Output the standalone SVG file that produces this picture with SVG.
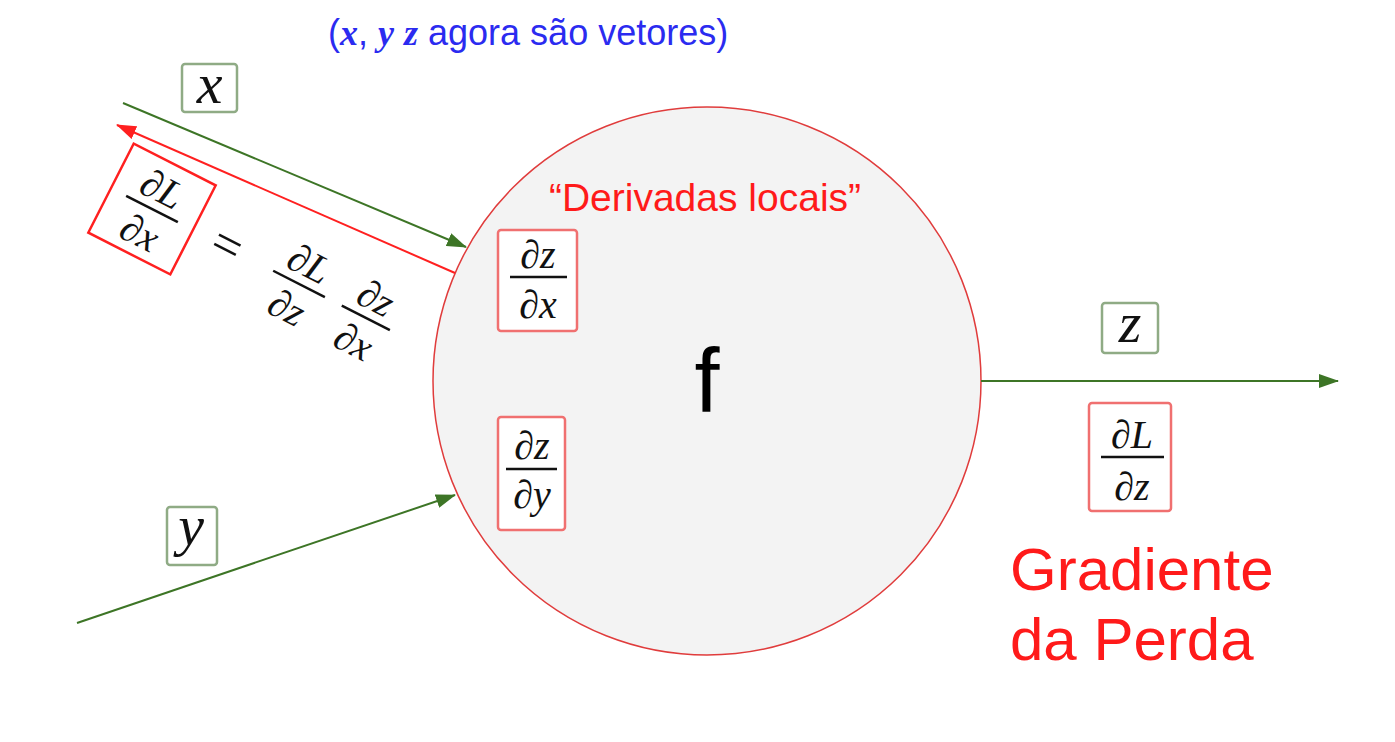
<svg xmlns="http://www.w3.org/2000/svg" width="1395" height="742" viewBox="0 0 1395 742">
<style>
.m{font-family:"Liberation Serif","DejaVu Serif",serif;font-style:italic;fill:#111;text-anchor:middle}
.fr{font-size:40px}
.lab{font-size:58px}
.bar{stroke:#111;stroke-width:2.5}
.gbox{fill:#fff;stroke:#8fab85;stroke-width:2.5}
.rbox{fill:#fff;stroke:#f07070;stroke-width:2.5}
.edge{stroke:#3d7526;stroke-width:2;fill:none}
.red{font-family:"Liberation Sans",Arial,sans-serif;fill:#ff1a1a}
.vec{font-family:"Liberation Serif",serif;font-style:italic;font-weight:bold}
</style>
<defs>
<marker id="ga" viewBox="0 0 20 14" refX="19" refY="7" markerWidth="20" markerHeight="14" markerUnits="userSpaceOnUse" orient="auto">
<path d="M0,0 L20,7 L0,14 z" fill="#3d7526"/>
</marker>
<marker id="ra" viewBox="0 0 20 14" refX="19" refY="7" markerWidth="20" markerHeight="14" markerUnits="userSpaceOnUse" orient="auto">
<path d="M0,0 L20,7 L0,14 z" fill="#ff2020"/>
</marker>
</defs>
<rect width="1395" height="742" fill="#fff"/>

<g id="title">
<text x="328" y="45" font-size="36" font-family="Liberation Sans,Arial,sans-serif" fill="#2b2bf0">(<tspan class="vec">x</tspan>, <tspan class="vec">y</tspan> <tspan class="vec">z</tspan> agora são vetores)</text>
</g>

<g id="node-f">
<circle cx="707" cy="381" r="274" fill="#f3f3f3" stroke="#e03c3c" stroke-width="1.5"/>
<text class="red" x="705" y="211" font-size="39" text-anchor="middle">“Derivadas locais”</text>
<text x="707" y="412" font-size="90" font-family="Liberation Sans,Arial,sans-serif" text-anchor="middle" fill="#000">f</text>
</g>

<g id="dzdx">
<rect class="rbox" x="498" y="230" width="79" height="101" rx="3"/>
<text class="m fr" x="538" y="268">∂z</text>
<line class="bar" x1="510" y1="277" x2="567" y2="277"/>
<text class="m fr" x="538" y="318">∂x</text>
</g>

<g id="dzdy">
<rect class="rbox" x="498" y="417" width="67" height="113" rx="3"/>
<text class="m fr" x="532" y="459">∂z</text>
<line class="bar" x1="506" y1="469" x2="557" y2="469"/>
<text class="m fr" x="532" y="508">∂y</text>
</g>

<g id="connectors">
<line class="edge" x1="123" y1="103" x2="466" y2="247" marker-end="url(#ga)"/>
<line class="edge" x1="77" y1="623" x2="455" y2="495" marker-end="url(#ga)"/>
<line class="edge" x1="981" y1="381" x2="1338" y2="381" marker-end="url(#ga)"/>
<line x1="455" y1="273" x2="117" y2="125" stroke="#ff2020" stroke-width="2" marker-end="url(#ra)"/>
</g>

<g id="x-label">
<rect class="gbox" x="182" y="64" width="55" height="48" rx="3"/>
<text class="m lab" x="209.5" y="103">x</text>
</g>

<g id="y-label">
<rect class="gbox" x="167" y="507" width="50" height="58" rx="3"/>
<text class="m lab" x="191" y="545">y</text>
</g>

<g id="z-label">
<rect class="gbox" x="1102" y="303" width="56" height="50" rx="3"/>
<text class="m lab" x="1130" y="342">z</text>
</g>

<g id="dLdz">
<rect class="rbox" x="1089" y="403" width="82" height="108" rx="3"/>
<text class="m fr" x="1132" y="448">∂L</text>
<line class="bar" x1="1101" y1="457" x2="1164" y2="457"/>
<text class="m fr" x="1132" y="500">∂z</text>
</g>

<g id="chain-rule" transform="translate(152,209) rotate(27)">
<rect x="-46" y="-50" width="92" height="100" fill="#fff" stroke="#ff2020" stroke-width="2.5"/>
<text class="m fr" x="0" y="-9">∂L</text>
<line class="bar" x1="-29" y1="0" x2="29" y2="0"/>
<text class="m fr" x="0" y="40">∂x</text>
<text class="m" x="83" y="15" font-size="52" font-style="normal">=</text>
<text class="m fr" x="165" y="-9">∂L</text>
<line class="bar" x1="136" y1="0" x2="194" y2="0"/>
<text class="m fr" x="165" y="40">∂z</text>
<text class="m fr" x="240" y="-9">∂z</text>
<line class="bar" x1="213" y1="0" x2="267" y2="0"/>
<text class="m fr" x="240" y="40">∂x</text>
</g>

<g id="gradient-label">
<text class="red" x="1010" y="590" font-size="60">Gradiente</text>
<text class="red" x="1010" y="660" font-size="60">da Perda</text>
</g>
</svg>
